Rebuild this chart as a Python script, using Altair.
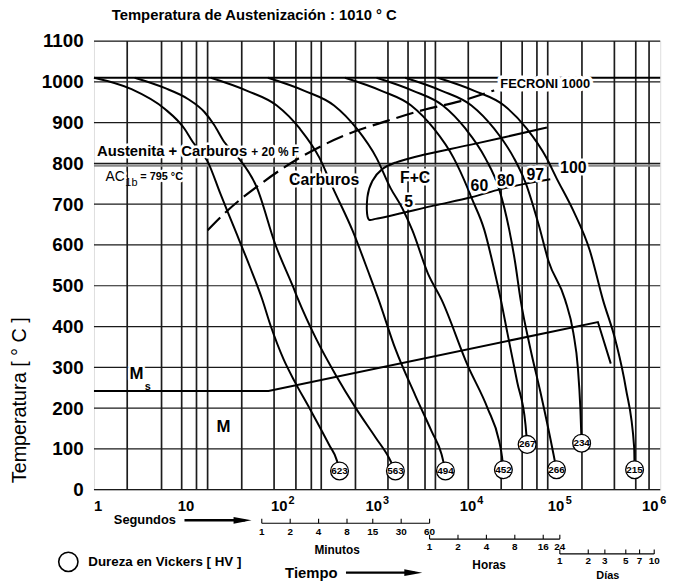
import altair as alt
import pandas as pd

FONT = "Liberation Sans"
NARROW = "Liberation Sans Narrow, Liberation Sans"
W, H = 573, 454

# ---------------- axis data ----------------
y_ticks = [0, 100, 200, 300, 400, 500, 600, 700, 800, 900, 1000, 1100]
dec_t_a = [100, 1000, 10000]
dec_exp_a = ["2", "3", "4"]
dec_t_b = [100000, 1000000]
dec_exp_b = ["5", "6"]

# irregular vertical grid lines (seconds)
vgrid_t = [2.25, 5.2, 8.5, 12.2, 16, 36.8, 81, 138, 201, 256, 590, 1304, 2128,
           3220, 4150, 9250, 20650, 34450, 49400, 64300, 148200, 327000,
           551000, 762000]

aus_temp = [1010]
ac1b_temp = [795]

# ---------------- cooling curves (t [s], T [C]) ----------------
cA_t = [1, 2.5, 5.6, 9.1, 11.1, 16, 21.9, 30.5, 45, 60, 75, 102, 134, 192, 310, 377, 400]
cA_T = [1010, 982, 934, 885, 853, 805, 725, 643, 546, 470, 400, 320, 265, 200, 110, 70, 46]

cB_t = [2.7, 5.6, 9.9, 14.8, 18.8, 23.9, 33, 53.4, 83, 129, 146, 227, 367, 595, 964, 1330, 1563]
cB_T = [1010, 985, 958, 926, 894, 853, 817, 740, 603, 497, 466, 369, 280, 200, 128, 79, 46]

cC_t = [17.3, 42, 86.5, 152, 246, 340, 550, 820, 1037, 1563, 2530, 3785, 4820, 5300]
cC_T = [1010, 978, 942, 885, 813, 740, 635, 530, 466, 345, 232, 143, 87, 46]

cD_t = [69.7, 170, 350, 610, 988, 1385, 1850, 2355, 3460, 4820, 9140, 14800, 19650, 21100, 21800]
cD_T = [1010, 978, 942, 885, 813, 740, 690, 637, 530, 466, 304, 200, 119, 80, 49]

cE_t = [457, 1114, 2296, 4000, 6485, 9080, 10000, 13680, 17400, 20470, 23990, 30530, 37400, 38900]
cE_T = [1010, 978, 942, 885, 813, 740, 716, 637, 540, 466, 385, 264, 159, 111]

cF_t = [988, 2410, 4970, 8650, 14020, 19650, 25000, 28900, 33130, 42170, 53700, 74000, 79600]
cF_T = [1010, 978, 942, 885, 813, 737, 640, 560, 466, 345, 240, 87, 49]

cG_t = [1987, 4850, 10000, 17400, 28200, 37670, 51500, 65600, 98100, 120000, 134000, 142500, 147000]
cG_T = [1010, 978, 942, 885, 813, 751, 650, 560, 466, 385, 300, 200, 114]

cH_t = [4405, 10740, 22170, 38550, 62500, 79600, 120000, 179200, 247000, 340000, 433000, 530000, 535000]
cH_T = [1010, 978, 942, 885, 813, 764, 684, 587, 466, 361, 248, 103, 49]

# dashed boundary
dash_t = [16, 25.9, 57.8, 152, 468, 1227, 3220, 7480, 17400]
dash_T = [636, 684, 749, 814, 870, 903, 932, 952, 979]

# F+C region outline
fc_t = [68400, 38900, 20470, 9930, 4100, 964, 821, 789, 891, 1133, 1563, 3220, 9930, 63000]
fc_T = [761, 751, 737, 717, 697, 664, 662, 717, 757, 786, 802, 822, 846, 888]

# Ms line
ms_t = [1, 70.8, 218800, 299400]
ms_T = [242, 242, 411, 309]

# hardness (HV)
hv_lbl = ["623", "563", "494", "452", "267", "266", "234", "215"]
hv_t = [400, 1563, 5300, 21800, 38900, 79600, 147000, 535000]
hv_T = [46, 46, 46, 49, 111, 49, 114, 49]

# secondary time rulers
min_lbl = ["1", "2", "4", "8", "15", "30", "60"]
min_val = [1, 2, 4, 8, 15, 30, 60]
hr_lbl = ["1", "2", "4", "8", "16", "24"]
hr_val = [1, 2, 4, 8, 16, 24]
day_lbl = ["1", "2", "3", "5", "7", "10"]
day_val = [1, 2, 3, 5, 7, 10]

# ---------------- scales / helpers ----------------
xs = alt.Scale(type="log", domain=[1, 1e6], nice=False)
ys = alt.Scale(domain=[0, 1100], nice=False, zero=False)


def X(f="t"):
    return alt.X(f"{f}:Q", scale=xs, axis=None)


def Y(f="T"):
    return alt.Y(f"{f}:Q", scale=ys)


def txt(texts, ts, Ts=None, ypix=None, size=14, weight="bold", align="center",
        baseline="middle", dx=0, dy=0, halo=False, font=FONT, hw=5):
    d = {"label": texts, "t": ts}
    if Ts is not None:
        d["T"] = Ts
    df = pd.DataFrame(d)
    enc = dict(x=X(), text="label:N")
    enc["y"] = Y() if Ts is not None else alt.value(ypix)
    props = dict(font=font, fontSize=size, fontWeight=weight, align=align,
                 baseline=baseline, dx=dx, dy=dy)
    out = []
    if halo:
        out.append(alt.Chart(df).mark_text(color="white", stroke="white",
                                           strokeWidth=hw, strokeJoin="round",
                                           **props).encode(**enc))
    out.append(alt.Chart(df).mark_text(color="black", **props).encode(**enc))
    return out


layers = []

# horizontal grid lines, carrying the y axis (first layer -> its axis wins)
yaxis = alt.Axis(values=y_ticks, format="d", grid=False, ticks=False, tickSize=0,
                 domain=False, labelFont=FONT, labelFontSize=19,
                 labelFontWeight="bold", labelColor="black", labelPadding=11,
                 title="Temperatura [ ° C ]", titleFont=FONT, titleFontSize=20,
                 titleFontWeight="normal", titleColor="black",
                 titleX=-75, titleY=363, titleAngle=270, titleAlign="center",
                 titleBaseline="middle")
layers.append(alt.Chart(pd.DataFrame({"T": y_ticks})).mark_rule(
    color="#1a1a1a", strokeWidth=1.2).encode(y=alt.Y("T:Q", scale=ys, axis=yaxis)))

# vertical grid
layers.append(alt.Chart(pd.DataFrame({"t": vgrid_t})).mark_rule(
    color="#1c1c1c", strokeWidth=1.7).encode(x=X(), y=alt.value(0), y2=alt.value(H)))

# Ac1b and austenitizing temperature
layers.append(alt.Chart(pd.DataFrame({"T": ac1b_temp})).mark_rule(
    color="#8a8a8a", strokeWidth=2.6).encode(y=Y()))
layers.append(alt.Chart(pd.DataFrame({"T": aus_temp})).mark_rule(
    color="black", strokeWidth=1.8).encode(y=Y()))


def path_df(name, ts, Ts):
    return pd.DataFrame({"curve": name, "t": ts, "T": Ts, "i": list(range(len(ts)))})


curves_df = pd.concat([
    path_df("A", cA_t, cA_T), path_df("B", cB_t, cB_T), path_df("C", cC_t, cC_T),
    path_df("D", cD_t, cD_T), path_df("E", cE_t, cE_T), path_df("F", cF_t, cF_T),
    path_df("G", cG_t, cG_T), path_df("H", cH_t, cH_T)])

layers.append(alt.Chart(curves_df).mark_line(
    color="black", strokeWidth=2, interpolate="monotone").encode(
    x=X(), y=Y(), detail="curve:N", order="i:Q"))

layers.append(alt.Chart(path_df("dash", dash_t, dash_T)).mark_line(
    color="black", strokeWidth=2.2, strokeDash=[18, 7], interpolate="monotone").encode(
    x=X(), y=Y(), order="i:Q"))

layers.append(alt.Chart(path_df("fc", fc_t, fc_T)).mark_line(
    color="black", strokeWidth=2, interpolate="catmull-rom").encode(
    x=X(), y=Y(), order="i:Q"))

layers.append(alt.Chart(path_df("ms", ms_t, ms_T)).mark_line(
    color="black", strokeWidth=2).encode(x=X(), y=Y(), order="i:Q"))

# in-plot labels
layers += txt(["Austenita + Carburos"], [1.075], [830], size=15, align="left", halo=True)
layers += txt(["+ 20 % F"], [46.5], [827], size=12, align="left", halo=True)
layers += txt(["AC"], [1.326], [766], size=14, weight="normal", align="left", halo=True)
layers += txt(["1b"], [2.15], [752], size=11, weight="normal", align="left")
layers += txt(["= 795 °C"], [3.1], [766], size=11, align="left", halo=True)
layers += txt(["Carburos"], [275], [760], size=16, halo=True)
layers += txt(["F+C"], [2530], [764], size=16, halo=True)
layers += txt(["5", "60", "80", "97", "100"],
              [2153, 12130, 23080, 47550, 119900],
              [704, 745, 756, 771, 788], size=16, halo=True)
layers += txt(["FECRONI 1000"], [60500], [994], size=13, halo=True, hw=7)
layers += txt(["M"], [2.82], [283], size=17, halo=True)
layers += txt(["s"], [3.72], [252], size=11)
layers += txt(["M"], [23.5], [154], size=17)

# hardness circles
hv_df = pd.DataFrame({"label": hv_lbl, "t": hv_t, "T": hv_T})
layers.append(alt.Chart(hv_df).mark_point(
    shape="circle", size=324, fill="white", fillOpacity=1, stroke="black",
    strokeWidth=1.3, opacity=1).encode(x=X(), y=Y()))
layers += txt(hv_lbl, hv_t, hv_T, size=10, font=NARROW)

# x axis labels
layers += txt(["1"], [1], ypix=471, size=15, align="left", dx=0)
layers += txt(["10"], [10], ypix=471, size=15, dx=-2.5)
layers += txt(["10"] * 3, dec_t_a, ypix=471, size=15, dx=-3.5)
layers += txt(dec_exp_a, dec_t_a, ypix=465, size=11, dx=9)
layers += txt(["10"] * 2, dec_t_b, ypix=471, size=15, dx=-10)
layers += txt(dec_exp_b, dec_t_b, ypix=465, size=11, dx=3)

# seconds label + arrow
layers += txt(["Segundos"], [3.46], ypix=485, size=13)
layers.append(alt.Chart(pd.DataFrame({"t": [9.1], "t2": [40]})).mark_rule(
    color="black", strokeWidth=2.6).encode(x=X(), x2="t2:Q", y=alt.value(485)))
arrow_shape = "M-1,-0.38L1,0L-1,0.38Z"
layers.append(alt.Chart(pd.DataFrame({"t": [37.5]})).mark_point(
    shape=arrow_shape, size=330, filled=True, color="black", opacity=1).encode(
    x=X(), y=alt.value(485)))


def ruler(vals, unit, ypix):
    ts = [v * unit for v in vals]
    out = [alt.Chart(pd.DataFrame({"t": [ts[0]], "t2": [ts[-1]]})).mark_rule(
        color="black", strokeWidth=1.1).encode(x=X(), x2="t2:Q", y=alt.value(ypix))]
    out.append(alt.Chart(pd.DataFrame({"t": ts})).mark_rule(
        color="black", strokeWidth=1.1).encode(x=X(), y=alt.value(ypix - 4.5),
                                                y2=alt.value(ypix)))
    return out, ts


r, tm = ruler(min_val, 60, 488)
layers += r
layers += txt(min_lbl, tm, ypix=497, size=10)
r, th = ruler(hr_val, 3600, 504)
layers += r
layers += txt(hr_lbl, th, ypix=512, size=10)
r, tdd = ruler(day_val, 86400, 519)
layers += r
layers += txt(day_lbl, tdd, ypix=526, size=10)

layers += txt(["Minutos"], [377], ypix=515, size=12)
layers += txt(["Horas"], [15400], ypix=530, size=12)
layers += txt(["Días"], [278600], ypix=541, size=11)

# Tiempo + arrow
layers += txt(["Tiempo"], [201], ypix=538, size=15)
layers.append(alt.Chart(pd.DataFrame({"t": [468], "t2": [2500]})).mark_rule(
    color="black", strokeWidth=2.4).encode(x=X(), x2="t2:Q", y=alt.value(538)))
layers.append(alt.Chart(pd.DataFrame({"t": [2420]})).mark_point(
    shape=arrow_shape, size=330, filled=True, color="black", opacity=1).encode(
    x=X(), y=alt.value(538)))

# hardness legend
layers.append(alt.Chart(pd.DataFrame({"t": [0.535]})).mark_point(
    shape="circle", size=380, fill="white", fillOpacity=1, stroke="black",
    strokeWidth=1.6, opacity=1).encode(x=X(), y=alt.value(527)))
layers += txt(["Dureza en Vickers  [ HV ]"], [0.87], ypix=527, size=13.5, align="left")

chart = alt.layer(*layers).properties(
    width=W, height=H,
    padding={"left": 87, "top": 30, "right": 17, "bottom": 91},
    autosize=alt.AutoSizeParams(type="none"),
    title=alt.TitleParams("Temperatura de Austenización : 1010 ° C", anchor="start",
                          frame="group", dx=18, offset=9, font=FONT, fontSize=15,
                          fontWeight="bold", color="black"),
).configure_view(stroke="black", strokeWidth=2).configure(background="white")

chart.save("out.html", embed_options={"renderer": "svg", "actions": False})
